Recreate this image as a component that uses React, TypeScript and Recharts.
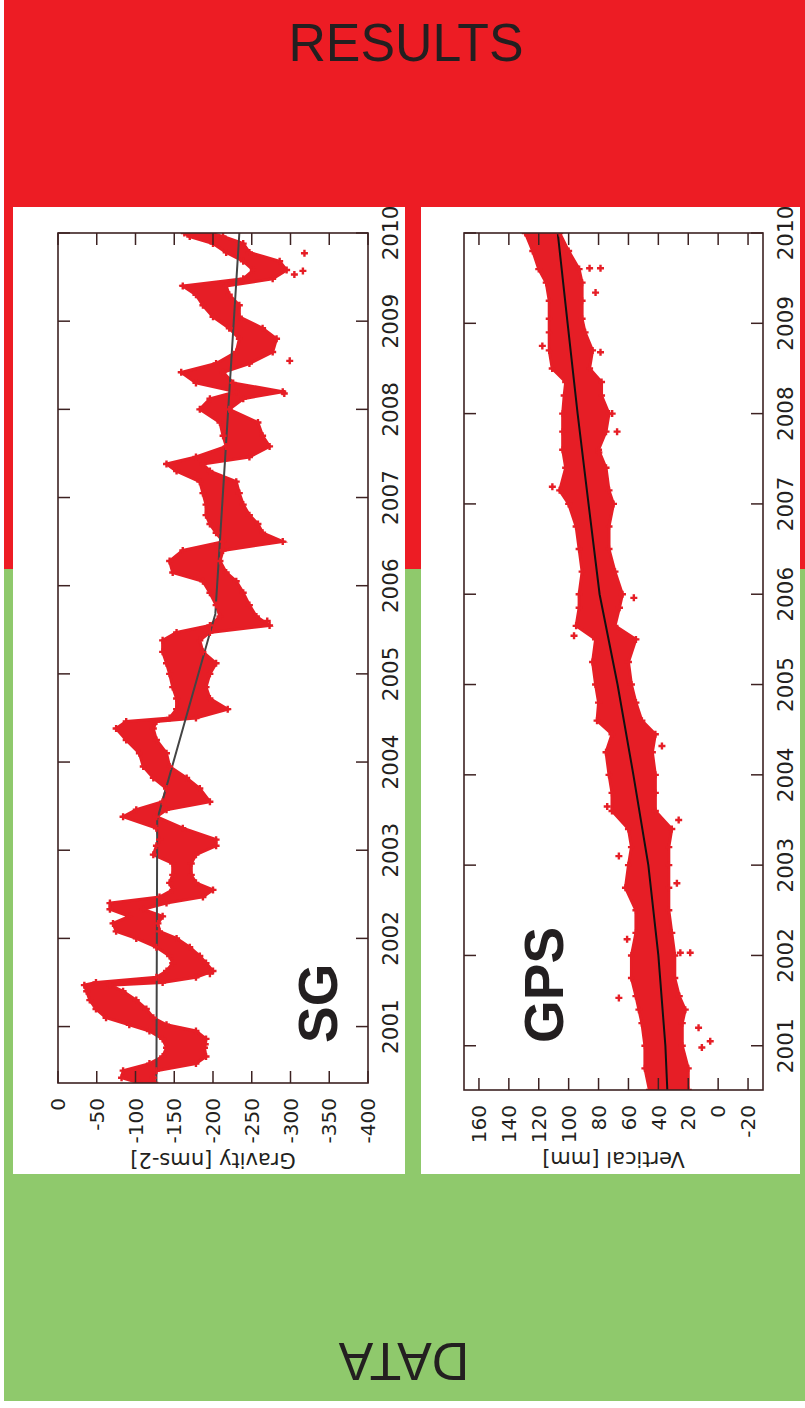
import { Area, ComposedChart, Line, Scatter, XAxis, YAxis } from 'recharts'

const RED_BG = '#ed1c24'
const GREEN_BG = '#8fc96c'
const DOT = '#e61e26'
const FRAME = '#3d2222'
const INK = '#231f20'

const yearTicks = [2001, 2002, 2003, 2004, 2005, 2006, 2007, 2008, 2009, 2010]
const sgTicks = [0, -50, -100, -150, -200, -250, -300, -350, -400]
const gpsTicks = [160, 140, 120, 100, 80, 60, 40, 20, 0, -20]

// SG gravity: extent of the point cloud at each epoch
const sgYears = [
  2000.36, 2000.42, 2000.5, 2000.58, 2000.66, 2000.76, 2000.86, 2000.95, 2001.02, 2001.1,
  2001.2, 2001.3, 2001.4, 2001.47, 2001.5, 2001.56, 2001.63, 2001.72, 2001.8, 2001.9,
  2002.0, 2002.08, 2002.17, 2002.25, 2002.33, 2002.4, 2002.47, 2002.55, 2002.63, 2002.72,
  2002.85, 2002.95, 2003.05, 2003.12, 2003.25, 2003.38, 2003.46, 2003.55, 2003.7, 2003.82,
  2003.95, 2004.1, 2004.25, 2004.38, 2004.46, 2004.5, 2004.6, 2004.72, 2004.85, 2005.0,
  2005.12, 2005.25, 2005.38, 2005.47, 2005.55, 2005.65, 2005.78, 2005.92, 2006.05, 2006.15,
  2006.28, 2006.4, 2006.5, 2006.6, 2006.7, 2006.8, 2006.92, 2007.05, 2007.18, 2007.3,
  2007.38, 2007.46, 2007.58, 2007.7, 2007.85, 2008.0, 2008.12, 2008.2, 2008.3, 2008.42,
  2008.52, 2008.65, 2008.8, 2008.92, 2009.05, 2009.18, 2009.3, 2009.4, 2009.48, 2009.58,
  2009.68, 2009.78, 2009.88, 2009.96, 2010.0,
]
const sgHigh = [
  -105, -82, -84, -118, -135, -140, -135, -118, -92, -62,
  -49, -41, -37, -34, -49, -127, -140, -148, -144, -127,
  -101, -75, -71, -92, -67, -67, -131, -148, -144, -148,
  -148, -123, -127, -131, -127, -84, -101, -135, -140, -123,
  -110, -105, -88, -75, -88, -144, -153, -153, -148, -144,
  -140, -135, -135, -153, -196, -209, -204, -196, -187, -148,
  -144, -161, -213, -204, -196, -191, -191, -187, -183, -153,
  -140, -178, -217, -213, -209, -183, -196, -230, -178, -159,
  -204, -230, -234, -221, -200, -187, -178, -161, -239, -252,
  -239, -217, -200, -170, -163,
]
const sgLow = [
  -125, -123, -127, -178, -191, -189, -191, -178, -140, -123,
  -114, -101, -84, -67, -135, -178, -200, -191, -183, -170,
  -153, -131, -129, -135, -110, -140, -187, -200, -178, -172,
  -172, -178, -204, -204, -161, -127, -140, -196, -183, -166,
  -144, -140, -127, -123, -127, -178, -219, -196, -191, -196,
  -204, -187, -183, -196, -273, -256, -247, -239, -230, -217,
  -209, -213, -290, -264, -258, -247, -239, -234, -230, -196,
  -187, -247, -273, -264, -258, -221, -239, -290, -226, -213,
  -247, -277, -282, -264, -234, -234, -221, -217, -277, -295,
  -286, -247, -239, -213, -196,
]
const sgOutlierYears = [2009.77, 2009.57, 2009.53, 2008.55, 2008.18, 2005.6, 2001.6, 2000.8]
const sgOutlierValues = [-318, -316, -305, -299, -292, -270, -196, -190]
const sgTrendYears = [2000.36, 2003.35, 2005.68, 2010]
const sgTrendValues = [-127, -128, -203, -234]

// GPS vertical
const gpsYears = [
  2000.51, 2000.75, 2001.0, 2001.25, 2001.4, 2001.55, 2001.75, 2002.0, 2002.25, 2002.5,
  2002.75, 2003.0, 2003.2, 2003.4, 2003.6, 2003.8, 2004.0, 2004.25, 2004.45, 2004.6,
  2004.8, 2005.0, 2005.25, 2005.5, 2005.65, 2005.85, 2006.0, 2006.25, 2006.5, 2006.75,
  2007.0, 2007.15, 2007.4, 2007.6, 2007.8, 2008.0, 2008.2, 2008.35, 2008.5, 2008.7,
  2008.9, 2009.05, 2009.25, 2009.45, 2009.6, 2009.8, 2010.0,
]
const gpsHigh = [
  46, 49, 49, 51, 53, 55, 58, 58, 55, 55,
  62, 60, 58, 60, 71, 71, 73, 75, 71, 81,
  80, 82, 84, 82, 95, 93, 93, 91, 93, 95,
  100, 106, 102, 104, 104, 104, 103, 102, 111, 113,
  113, 113, 113, 115, 120, 124, 129,
]
const gpsLow = [
  20, 20, 24, 24, 22, 26, 29, 29, 31, 33,
  33, 33, 33, 31, 42, 42, 42, 44, 42, 51,
  55, 58, 60, 55, 69, 66, 64, 69, 73, 73,
  70, 73, 75, 80, 75, 73, 78, 78, 86, 84,
  89, 91, 91, 91, 93, 100, 106,
]
const gpsOutlierYears = [
  2000.98, 2001.05, 2001.2, 2001.53, 2002.03, 2002.03, 2002.18, 2002.8, 2003.1, 2003.5,
  2003.65, 2004.32, 2005.54, 2005.96, 2007.19, 2007.57, 2007.8, 2008.0, 2008.68, 2008.75,
  2009.34, 2009.61, 2009.61,
]
const gpsOutlierValues = [
  10.9, 5.3, 13.1, 66.4, 18.7, 25.3, 60.9, 27.6, 66.4, 26.4,
  74.2, 37.6, 96.4, 56.4, 110.9, 79.8, 67.6, 70.9, 78.7, 117.6,
  82, 86, 78.7,
]
const gpsTrendYears = [2000.51, 2001, 2002, 2003, 2004, 2005, 2006, 2007, 2008, 2009, 2010]
const gpsTrendValues = [34, 35.3, 40, 46.7, 56.7, 67.3, 79.3, 86.7, 94, 100.7, 107.3]

const toRows = (years: number[], low: number[], high: number[]) =>
  years.map((year, i) => ({ year, range: [low[i], high[i]] }))
const toEdges = (years: number[], low: number[], high: number[]) =>
  years.flatMap((year, i) => [{ year, v: low[i] }, { year, v: high[i] }])
const toPoints = (years: number[], values: number[]) => years.map((year, i) => ({ year, v: values[i] }))

const TICK_LEN = 12

const Cross = (props: any) => {
  const { cx, cy } = props
  if (cx == null || cy == null) return <g />
  return (
    <path d={`M${cx - 3.5},${cy}H${cx + 3.5}M${cx},${cy - 3.5}V${cy + 3.5}`} stroke={DOT} strokeWidth={2.4} />
  )
}

type PanelProps = {
  left: number
  top: number
  width: number
  height: number
  marginTop: number
  yAxisWidth: number
  xAxisHeight: number
  xDomain: [number, number]
  yDomain: [number, number]
  yTicks: number[]
  years: number[]
  low: number[]
  high: number[]
  outYears: number[]
  outValues: number[]
  trendYears: number[]
  trendValues: number[]
  trendColor: string
  title: string
  yLabel: string
  titleBaseline: number
  labelBaseline: number
}

const Panel = (p: PanelProps) => {
  const right = 26
  const plotW = p.width - p.yAxisWidth - right
  const plotH = p.height - p.marginTop - p.xAxisHeight
  const plotL = p.yAxisWidth
  const plotT = p.marginTop

  const yearTick = (props: any) => {
    const { x, y, payload } = props
    return (
      <g>
        <line x1={x} y1={y} x2={x} y2={y - TICK_LEN} stroke={FRAME} strokeWidth={1.5} />
        <line x1={x} y1={y - plotH} x2={x} y2={y - plotH + TICK_LEN} stroke={FRAME} strokeWidth={1.5} />
        <text x={x} y={y + 30} textAnchor="middle" fontSize={21.5} fontFamily="DejaVu Sans" fill={INK}>
          {payload.value}
        </text>
      </g>
    )
  }

  const valueTick = (props: any) => {
    const { x, y, payload } = props
    return (
      <g>
        <line x1={x} y1={y} x2={x + TICK_LEN} y2={y} stroke={FRAME} strokeWidth={1.5} />
        <line x1={x + plotW} y1={y} x2={x + plotW - TICK_LEN} y2={y} stroke={FRAME} strokeWidth={1.5} />
        <text x={x - 15} y={y} dy="0.36em" textAnchor="end" fontSize={20} fontFamily="DejaVu Sans" fill={INK}>
          {payload.value}
        </text>
      </g>
    )
  }

  const midY = plotT + plotH / 2

  return (
    <div
      style={{
        position: 'absolute',
        left: p.left,
        top: p.top + p.width,
        width: p.width,
        height: p.height,
        background: '#ffffff',
        transformOrigin: '0 0',
        transform: 'rotate(-90deg)',
      }}
    >
      <ComposedChart
        width={p.width}
        height={p.height}
        data={toRows(p.years, p.low, p.high)}
        margin={{ top: p.marginTop, right, bottom: 0, left: 0 }}
      >
        <XAxis
          type="number"
          dataKey="year"
          domain={p.xDomain}
          ticks={yearTicks}
          interval={0}
          height={p.xAxisHeight}
          tickSize={0}
          tickMargin={0}
          tickLine={false}
          axisLine={false}
          tick={yearTick}
          allowDataOverflow
        />
        <YAxis
          type="number"
          domain={p.yDomain}
          ticks={p.yTicks}
          interval={0}
          width={p.yAxisWidth}
          tickSize={0}
          tickMargin={0}
          tickLine={false}
          axisLine={false}
          tick={valueTick}
          allowDataOverflow
        />
        <Area
          type="linear"
          dataKey="range"
          fill={DOT}
          fillOpacity={1}
          stroke={DOT}
          strokeWidth={3}
          dot={false}
          activeDot={false}
          isAnimationActive={false}
        />
        <Scatter data={toEdges(p.years, p.low, p.high)} dataKey="v" shape={Cross} isAnimationActive={false} />
        <Scatter data={toPoints(p.outYears, p.outValues)} dataKey="v" shape={Cross} isAnimationActive={false} />
        <Line
          data={toPoints(p.trendYears, p.trendValues)}
          dataKey="v"
          stroke={p.trendColor}
          strokeWidth={2}
          dot={false}
          activeDot={false}
          isAnimationActive={false}
        />
      </ComposedChart>
      <svg
        width={p.width}
        height={p.height}
        style={{ position: 'absolute', left: 0, top: 0, pointerEvents: 'none' }}
      >
        <rect x={plotL} y={plotT} width={plotW} height={plotH} fill="none" stroke={FRAME} strokeWidth={1.6} />
        <text x={131} y={p.titleBaseline} fontSize={55} fontWeight="bold" fontFamily="Liberation Sans, Arial" fill={INK}>
          {p.title}
        </text>
        <text
          x={p.labelBaseline}
          y={midY}
          transform={`rotate(-90 ${p.labelBaseline} ${midY})`}
          textAnchor="middle"
          fontSize={21}
          fontFamily="DejaVu Sans"
          fill={INK}
        >
          {p.yLabel}
        </text>
      </svg>
    </div>
  )
}

const App = () => (
  <div style={{ position: 'absolute', left: 0, top: 0, width: 805, height: 1408, background: '#ffffff', overflow: 'hidden' }}>
    <svg width={805} height={1408} style={{ position: 'absolute', left: 0, top: 0 }}>
      <rect x={4} y={0} width={801} height={569} fill={RED_BG} />
      <rect x={4} y={569} width={801} height={832} fill={GREEN_BG} />
      <text
        x={406}
        y={61}
        textAnchor="middle"
        fontSize={54}
        fontFamily="Liberation Sans, Arial"
        fill={INK}
        transform="translate(406 0) scale(0.96 1) translate(-406 0)"
      >
        RESULTS
      </text>
      <text
        x={404}
        y={1381}
        textAnchor="middle"
        fontSize={54}
        fontFamily="Liberation Sans, Arial"
        fill={INK}
        transform="rotate(180 404 1362) translate(404 0) scale(0.96 1) translate(-404 0)"
      >
        DATA
      </text>
    </svg>
    <Panel
      left={13}
      top={207}
      width={967}
      height={392}
      marginTop={45}
      yAxisWidth={91}
      xAxisHeight={37}
      xDomain={[2000.36, 2010]}
      yDomain={[-400, 0]}
      yTicks={sgTicks}
      years={sgYears}
      low={sgLow}
      high={sgHigh}
      outYears={sgOutlierYears}
      outValues={sgOutlierValues}
      trendYears={sgTrendYears}
      trendValues={sgTrendValues}
      trendColor="#444444"
      title="SG"
      yLabel="Gravity [nms-2]"
      titleBaseline={324}
      labelBaseline={21}
    />
    <Panel
      left={421}
      top={207}
      width={967}
      height={379}
      marginTop={43}
      yAxisWidth={84}
      xAxisHeight={37}
      xDomain={[2000.51, 2010]}
      yDomain={[-30, 170]}
      yTicks={gpsTicks}
      years={gpsYears}
      low={gpsLow}
      high={gpsHigh}
      outYears={gpsOutlierYears}
      outValues={gpsOutlierValues}
      trendYears={gpsTrendYears}
      trendValues={gpsTrendValues}
      trendColor="#111111"
      title="GPS"
      yLabel="Vertical [mm]"
      titleBaseline={142}
      labelBaseline={22}
    />
  </div>
)

export default App
